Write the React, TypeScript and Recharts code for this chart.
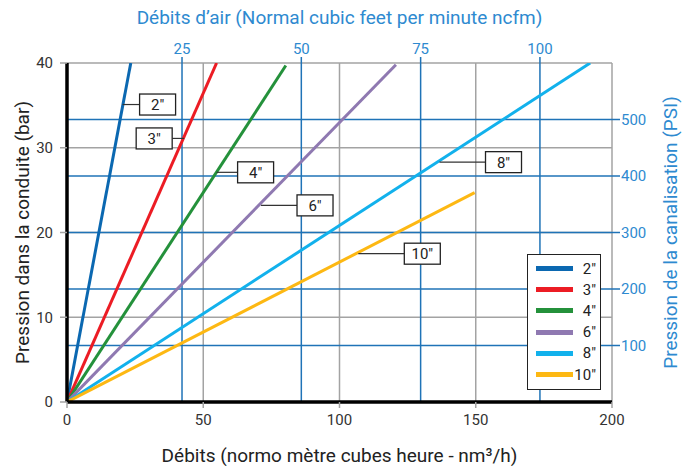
import React from "react";
import {
  LineChart,
  Line,
  XAxis,
  YAxis,
  CartesianGrid,
  ReferenceLine,
  ReferenceDot,
  Legend,
} from "recharts";

const sizes = ["2″", "3″", "4″", "6″", "8″", "10″"];
const colors = ["#0b68b1", "#ec1c24", "#24913b", "#8f79b1", "#12b1ec", "#fdb813"];

// end point of each straight line (nm3/h, bar)
const endFlow = [23.4, 54.9, 80.3, 120.7, 192.0, 149.6];
const endPressure = [40, 40, 39.7, 39.8, 40, 24.7];

// where each callout touches its line
const labelFlow = [20.4, 43.0, 54.9, 71.2, 136.7, 106.9];
const labelPressure = [35.1, 31.1, 27.1, 23.2, 28.3, 17.5];
// leader length in px, negative = box sits left of the line
const leaderLength = [17, -12, 21, 36, 46, 46];

const flowTicks = [0, 50, 100, 150, 200];
const barTicks = [0, 10, 20, 30, 40];
const ncfmTicks = [25, 50, 75, 100];
const ncfmDomain = [0.9, 115.1];
const psiTicks = [100, 200, 300, 400, 500];

const FONT = "Roboto, 'DejaVu Sans', sans-serif";
const BLUE_TEXT = "#2e8ad0";
const BLUE_GRID = "#1f73b7";
const GRAY = "#a3a3a3";
const BOX_W = 36;

const series = sizes.map((name, i) => ({
  name,
  color: colors[i],
  points: [
    { flow: 0, bar: 0 },
    { flow: endFlow[i], bar: endPressure[i] },
  ],
}));

// invisible series so the top (ncfm) axis gets a scale
const ncfmAnchor = ncfmDomain.map((v) => ({ ncfm: v, bar: 0 }));

const Callout = (props: any) => {
  const { cx, cy, text, len } = props;
  if (cx == null || cy == null) return null;
  const ex = cx + len;
  const bx = len < 0 ? ex - BOX_W : ex;
  return (
    <g>
      <line x1={cx} y1={cy} x2={ex} y2={cy} stroke="#333" strokeWidth={1.2} />
      <rect x={bx} y={cy - 10.5} width={BOX_W} height={21} fill="#fff" stroke="#222" strokeWidth={1.3} />
      <text
        x={bx + BOX_W / 2}
        y={cy + 0.5}
        textAnchor="middle"
        dominantBaseline="central"
        fontFamily={FONT}
        fontSize={15}
        fill="#222"
      >
        {text}
      </text>
    </g>
  );
};

const title = (text: string, dx: number, dy: number, angle: number, color: string) =>
  (props: any) => {
    const vb = props.viewBox || {};
    const x = angle ? vb.x + dx : vb.x + vb.width / 2;
    const y = angle ? vb.y + vb.height / 2 : vb.y + dy;
    return (
      <text
        x={x}
        y={y}
        transform={angle ? `rotate(${angle} ${x} ${y})` : undefined}
        textAnchor="middle"
        dominantBaseline="central"
        fontFamily={FONT}
        fontSize={19}
        fill={color}
      >
        {text}
      </text>
    );
  };

const LegendBox = () => (
  <div
    style={{
      width: 72,
      height: 131,
      border: "1.5px solid #222",
      background: "#fff",
      boxSizing: "content-box",
      paddingTop: 3,
    }}
  >
    {series.map((s) => (
      <div key={s.name} style={{ display: "flex", alignItems: "center", height: 21.2 }}>
        <div style={{ width: 37, height: 5, background: s.color, marginLeft: 8 }} />
        <div
          style={{
            flex: 1,
            textAlign: "right",
            paddingRight: 4,
            fontFamily: FONT,
            fontSize: 15,
            color: "#222",
          }}
        >
          {s.name}
        </div>
      </div>
    ))}
  </div>
);

export default function App() {
  return (
    <div style={{ position: "absolute", left: 0, top: 0, background: "#fff" }}>
      <LineChart width={692} height={466} margin={{ top: 0, right: 0, bottom: 0, left: 0 }}>
        <CartesianGrid xAxisId="bottom" yAxisId="left" stroke={GRAY} strokeWidth={1.5} />
        {ncfmTicks.map((t) => (
          <ReferenceLine
            key={"v" + t}
            x={t}
            xAxisId="top"
            yAxisId="left"
            stroke={BLUE_GRID}
            strokeWidth={1.5}
          />
        ))}
        {psiTicks.map((t) => (
          <ReferenceLine
            key={"h" + t}
            y={t}
            xAxisId="bottom"
            yAxisId="right"
            stroke={BLUE_GRID}
            strokeWidth={1.5}
          />
        ))}
        <XAxis
          xAxisId="bottom"
          type="number"
          dataKey="flow"
          domain={[0, 200]}
          ticks={flowTicks}
          allowDataOverflow
          height={64}
          axisLine={{ stroke: "#000", strokeWidth: 3.5 }}
          tickLine={{ stroke: GRAY, strokeWidth: 1.5 }}
          tickSize={6}
          tickMargin={6}
          tick={{ fill: "#333", fontSize: 15, fontFamily: FONT }}
          label={{ content: title("Débits (normo mètre cubes heure - nm³/h)", 0, 53, 0, "#222") }}
        />
        <XAxis
          xAxisId="top"
          orientation="top"
          type="number"
          dataKey="ncfm"
          domain={ncfmDomain}
          ticks={ncfmTicks}
          allowDataOverflow
          height={63}
          axisLine={false}
          tickLine={{ stroke: BLUE_GRID, strokeWidth: 1.5 }}
          tickSize={6}
          tickMargin={3}
          tick={{ fill: BLUE_TEXT, fontSize: 15, fontFamily: FONT }}
          label={{
            content: title("Débits d’air (Normal cubic feet per minute ncfm)", 0, 17, 0, BLUE_TEXT),
          }}
        />
        <YAxis
          yAxisId="left"
          type="number"
          dataKey="bar"
          domain={[0, 40]}
          ticks={barTicks}
          allowDataOverflow
          width={67}
          axisLine={{ stroke: "#000", strokeWidth: 3.5 }}
          tickLine={{ stroke: GRAY, strokeWidth: 1.5 }}
          tickSize={7}
          tickMargin={7}
          tick={{ fill: "#333", fontSize: 15, fontFamily: FONT }}
          label={{ content: title("Pression dans la conduite (bar)", 22, 0, -90, "#222") }}
        />
        <YAxis
          yAxisId="right"
          orientation="right"
          type="number"
          domain={[0, 600]}
          ticks={psiTicks}
          allowDataOverflow
          width={80}
          axisLine={false}
          tickLine={{ stroke: BLUE_GRID, strokeWidth: 1.5 }}
          tickSize={8}
          tickMargin={1}
          tick={{ fill: BLUE_TEXT, fontSize: 15, fontFamily: FONT }}
          label={{ content: title("Pression de la canalisation (PSI)", 58, 0, -90, BLUE_TEXT) }}
        />
        <Line
          xAxisId="top"
          yAxisId="left"
          data={ncfmAnchor}
          dataKey="bar"
          stroke="none"
          dot={false}
          activeDot={false}
          legendType="none"
          isAnimationActive={false}
        />
        {series.map((s) => (
          <Line
            key={s.name}
            xAxisId="bottom"
            yAxisId="left"
            data={s.points}
            dataKey="bar"
            name={s.name}
            stroke={s.color}
            strokeWidth={3}
            dot={false}
            activeDot={false}
            isAnimationActive={false}
          />
        ))}
        {sizes.map((name, i) => (
          <ReferenceDot
            key={"c" + name}
            xAxisId="bottom"
            yAxisId="left"
            x={labelFlow[i]}
            y={labelPressure[i]}
            shape={(p: any) => <Callout {...p} text={name} len={leaderLength[i]} />}
          />
        ))}
        <Legend
          layout="vertical"
          align="center"
          verticalAlign="middle"
          content={() => <LegendBox />}
          wrapperStyle={{ position: "absolute", left: 527, top: 254, width: 75 }}
        />
      </LineChart>
    </div>
  );
}
